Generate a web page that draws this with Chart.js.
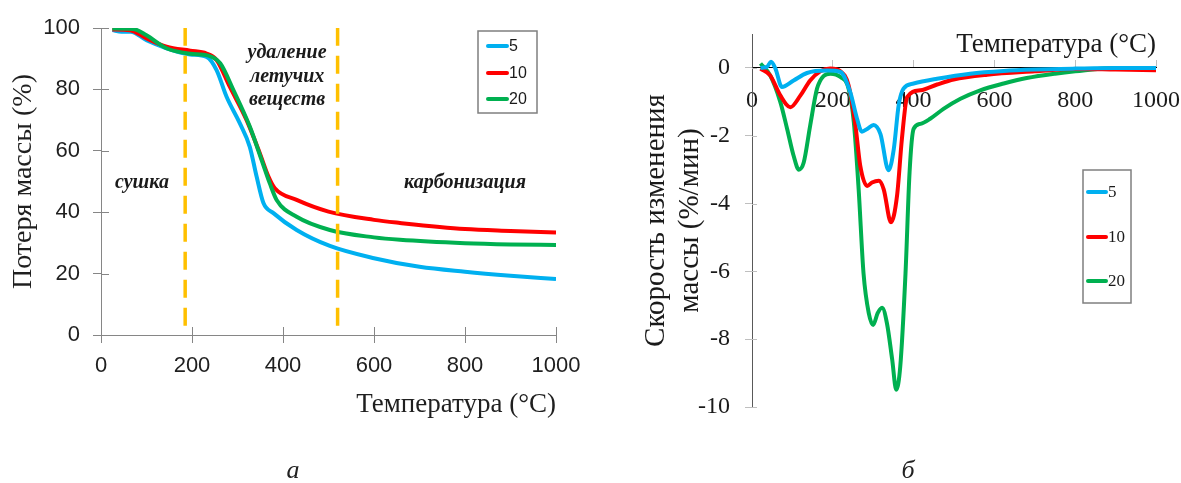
<!DOCTYPE html>
<html lang="ru">
<head>
<meta charset="utf-8">
<title>ТГ и ДТГ</title>
<script src="https://cdn.jsdelivr.net/npm/chart.js@4.4.1/dist/chart.umd.min.js"></script>
<style>
  html, body { margin: 0; padding: 0; background: #fff; }
  #wrap { position: relative; width: 1181px; height: 483px; overflow: hidden; }
  canvas { position: absolute; top: 0; }
  #tgChart { left: 0; }
  #dtgChart { left: 600px; }
  .caption { position: absolute; top: 455px; line-height: 30px; font: italic 26px "Liberation Serif", serif; color: #222; transform: translateX(-50%); }
</style>
</head>
<body>
<div id="wrap">
  <canvas id="tgChart" width="600" height="483"></canvas>
  <canvas id="dtgChart" width="581" height="483"></canvas>
  <div class="caption" style="left:293px">а</div>
  <div class="caption" style="left:908px">б</div>
</div>
<script>
// heating rates (legend) and their colours
const rates = ['5', '10', '20'];
const rateColors = ['#00b0f0', '#ff0000', '#00b050'];

// (а) TG curves: temperature, °C -> mass, %
const tgTemp5  = [25, 45, 65, 100, 144, 196, 232, 254, 276, 305, 327, 342, 357, 379, 430, 503, 600, 700, 800, 900, 1000];
const tgMass5  = [99.3, 98.8, 98.8, 96, 93.4, 91.4, 90.6, 86.3, 77.6, 69, 61.3, 51.6, 43, 39.7, 34.2, 29.0, 25, 22.2, 20.6, 19.3, 18.2];
const tgTemp10 = [25, 64, 100, 144, 196, 232, 254, 283, 320, 349, 368, 382, 430, 500, 600, 657, 800, 900, 1000];
const tgMass10 = [99.5, 99.3, 96.6, 93.9, 92.6, 91.7, 89.6, 80.9, 70, 59.2, 51.6, 47.8, 44, 40.2, 37.5, 36.5, 34.5, 33.9, 33.4];
const tgTemp20 = [25, 70, 100, 144, 196, 236, 262, 291, 327, 353, 371, 386, 430, 503, 600, 657, 800, 900, 1000];
const tgMass20 = [99.8, 99.7, 97.6, 93.4, 91.6, 91, 88.5, 79.8, 67.9, 57, 49.4, 44, 38.5, 34.2, 31.8, 31, 29.9, 29.5, 29.3];

// stage boundaries on (а), °C, and the mass range the dashes cover
const stageBounds = [185, 520];
const stageSpan = [3, 100.5];

// (б) DTG curves: temperature, °C -> rate of mass change, %/min
const dtgTemp5  = [21, 37, 47, 58, 74, 103, 136, 186, 219, 243, 260, 272, 285, 301, 318, 338, 351, 363, 375, 400, 458, 540, 623, 700, 800, 900, 1000];
const dtgRate5  = [0, 0.03, 0.18, -0.02, -0.56, -0.37, -0.15, -0.08, -0.12, -0.71, -1.5, -1.88, -1.8, -1.68, -1.95, -3.02, -2.39, -1.1, -0.61, -0.46, -0.32, -0.17, -0.09, -0.05, -0.02, 0, 0];
const dtgTemp10 = [21, 45, 70, 95, 120, 144, 169, 194, 219, 239, 256, 268, 285, 297, 314, 326, 344, 359, 371, 384, 417, 458, 499, 582, 700, 800, 900, 1000];
const dtgRate10 = [-0.02, -0.22, -0.81, -1.16, -0.81, -0.37, -0.1, -0.02, -0.1, -0.51, -1.7, -2.89, -3.48, -3.38, -3.33, -3.58, -4.55, -3.77, -2.1, -0.86, -0.66, -0.49, -0.34, -0.2, -0.1, -0.03, -0.05, -0.07];
const dtgTemp20 = [21, 45, 70, 87, 103, 116, 128, 144, 161, 177, 194, 219, 239, 252, 264, 276, 289, 300, 311, 322, 334, 347, 357, 367, 380, 390, 400, 417, 441, 474, 516, 565, 623, 680, 750, 800, 900, 1000];
const dtgRate20 = [0.13, -0.22, -1.0, -1.8, -2.59, -3.0, -2.79, -1.7, -0.61, -0.24, -0.17, -0.27, -0.61, -1.6, -3.58, -6.05, -7.23, -7.58, -7.23, -7.07, -7.53, -8.6, -9.49, -8.8, -6.05, -3.08, -1.8, -1.65, -1.5, -1.21, -0.91, -0.66, -0.46, -0.3, -0.17, -0.1, 0, -0.05];

const SANS = '"Liberation Sans", Arial, sans-serif';
const SERIF = '"Liberation Serif", "Times New Roman", serif';
const INK = '#1f1f1f';

const pts = (xs, ys) => xs.map((x, i) => ({ x: x, y: ys[i] }));

function seriesSet(temps, vals, orders) {
    return temps.map((t, i) => ({
        label: rates[i],
        data: pts(t, vals[i]),
        borderColor: rateColors[i],
        borderWidth: 4,
        pointRadius: 0,
        cubicInterpolationMode: 'monotone',
        order: orders[i]
    }));
}

// tick marks on the inner side of the axes
const innerTicks = {
    id: 'innerTicks',
    beforeDatasetsDraw(chart, args, opts) {
        const ctx = chart.ctx;
        const area = chart.chartArea;
        ctx.save();
        ctx.lineWidth = 1;
        Object.keys(opts.scales || {}).forEach(id => {
            const s = chart.scales[id];
            const len = opts.scales[id];
            ctx.strokeStyle = s.options.grid.color;
            ctx.beginPath();
            s.ticks.forEach(t => {
                const p = Math.round(s.getPixelForValue(t.value)) + 0.5;
                if (s.isHorizontal()) {
                    ctx.moveTo(p, area.bottom);
                    ctx.lineTo(p, area.bottom - len);
                } else {
                    ctx.moveTo(area.left, p);
                    ctx.lineTo(area.left + len, p);
                }
            });
            ctx.stroke();
        });
        ctx.restore();
    }
};

// framed legend with short line samples
const boxLegend = {
    id: 'boxLegend',
    afterDatasetsDraw(chart, args, o) {
        if (!o.box) return;
        const ctx = chart.ctx;
        ctx.save();
        ctx.fillStyle = '#fff';
        ctx.fillRect(o.box[0], o.box[1], o.box[2], o.box[3]);
        ctx.strokeStyle = '#7f7f7f';
        ctx.lineWidth = 1.5;
        ctx.strokeRect(o.box[0], o.box[1], o.box[2], o.box[3]);
        ctx.font = o.font;
        ctx.textBaseline = 'middle';
        ctx.textAlign = 'left';
        chart.data.datasets.filter(d => d.label).forEach((d, i) => {
            const y = o.rows[i];
            ctx.strokeStyle = d.borderColor;
            ctx.lineWidth = 4;
            ctx.lineCap = 'round';
            ctx.beginPath();
            ctx.moveTo(o.line[0], y);
            ctx.lineTo(o.line[1], y);
            ctx.stroke();
            ctx.fillStyle = '#1a1a1a';
            ctx.fillText(d.label, o.line[1] + 2, y + 1);
        });
        ctx.restore();
    }
};

// stage names placed in data coordinates
const stageLabels = {
    id: 'stageLabels',
    afterDatasetsDraw(chart, args, o) {
        if (!o.items) return;
        const ctx = chart.ctx;
        const sx = chart.scales.x, sy = chart.scales.y;
        ctx.save();
        ctx.font = o.font;
        ctx.fillStyle = '#1a1a1a';
        ctx.textAlign = 'center';
        ctx.textBaseline = 'middle';
        o.items.forEach(it => ctx.fillText(it.text, sx.getPixelForValue(it.t), sy.getPixelForValue(it.m)));
        ctx.restore();
    }
};

// ============================================
// (а) TG
// ============================================
const tgDatasets = seriesSet([tgTemp5, tgTemp10, tgTemp20], [tgMass5, tgMass10, tgMass20], [3, 2, 1]);
stageBounds.forEach(t => {
    tgDatasets.push({
        label: '',
        data: pts([t, t], stageSpan),
        borderColor: '#ffc000',
        borderWidth: 3.5,
        borderDash: [18, 10],
        pointRadius: 0,
        tension: 0,
        order: 0
    });
});

new Chart(document.getElementById('tgChart'), {
    type: 'line',
    data: { datasets: tgDatasets },
    plugins: [innerTicks, boxLegend, stageLabels],
    options: {
        responsive: false,
        animation: false,
        devicePixelRatio: 1,
        layout: { padding: { top: 28, right: 44, bottom: 0, left: 0 } },
        plugins: {
            legend: { display: false },
            tooltip: { enabled: false },
            innerTicks: { scales: { x: 8, y: 8 } },
            boxLegend: { box: [478, 31, 59, 82], rows: [46, 73, 99], line: [488, 507], font: '16px ' + SANS },
            stageLabels: {
                font: 'italic bold 20px ' + SERIF,
                items: [
                    { text: 'сушка', t: 90, m: 49.5 },
                    { text: 'удаление', t: 409, m: 91.9 },
                    { text: 'летучих', t: 409, m: 84.0 },
                    { text: 'веществ', t: 409, m: 76.5 },
                    { text: 'карбонизация', t: 800, m: 49.5 }
                ]
            }
        },
        scales: {
            x: {
                type: 'linear', min: 0, max: 1000,
                ticks: { stepSize: 200, padding: 10, autoSkip: false, maxRotation: 0, color: INK, font: { family: SANS, size: 22 }, callback: v => String(v) },
                grid: { drawOnChartArea: false, tickLength: 8, color: '#868686' },
                border: { color: '#868686', width: 1 },
                title: { display: true, text: 'Температура (°C)', align: 'end', color: INK, font: { family: SERIF, size: 27 }, padding: { top: 0, bottom: 62 } },
                afterFit: s => { s.height = 148; s.paddingLeft = 0; s.paddingRight = 0; }
            },
            y: {
                min: 0, max: 100,
                ticks: { stepSize: 20, padding: 13, color: INK, font: { family: SANS, size: 22 }, callback: v => String(v) },
                grid: { drawOnChartArea: false, tickLength: 8, color: '#868686' },
                border: { color: '#868686', width: 1 },
                title: { display: true, text: 'Потеря массы (%)', color: INK, font: { family: SERIF, size: 28 }, padding: { top: 7, bottom: 0 } },
                afterFit: s => { s.width = 101; s.paddingTop = 0; s.paddingBottom = 0; }
            }
        }
    }
});

// ============================================
// (б) DTG
// ============================================
new Chart(document.getElementById('dtgChart'), {
    type: 'line',
    data: { datasets: seriesSet([dtgTemp5, dtgTemp10, dtgTemp20], [dtgRate5, dtgRate10, dtgRate20], [1, 2, 3]) },
    plugins: [innerTicks, boxLegend],
    options: {
        responsive: false,
        animation: false,
        devicePixelRatio: 1,
        layout: { padding: { top: 34, right: 25, bottom: 76, left: 0 } },
        plugins: {
            legend: { display: false },
            tooltip: { enabled: false },
            innerTicks: { scales: { y: 5 } },
            boxLegend: { box: [483, 170, 48, 133], rows: [192, 237, 281], line: [488, 506], font: '17px ' + SERIF }
        },
        scales: {
            x: {
                type: 'linear', min: 0, max: 1000, position: { y: 0 },
                ticks: { stepSize: 200, padding: 26, autoSkip: false, maxRotation: 0, color: '#1a1a1a', font: { family: SERIF, size: 24 }, callback: v => String(v) },
                grid: { drawOnChartArea: false, tickLength: -8, color: '#bfbfbf' },
                border: { color: '#000', width: 1 },
                title: { display: true, text: 'Температура (°C)', align: 'end', color: '#1a1a1a', font: { family: SERIF, size: 27 }, padding: { top: 0, bottom: 7 } },
                afterFit: s => { s.height = 0; s.paddingLeft = 0; s.paddingRight = 0; }
            },
            y: {
                min: -10, max: 1,
                ticks: { stepSize: 2, includeBounds: false, padding: 15, color: '#1a1a1a', font: { family: SERIF, size: 24 }, callback: v => String(v) },
                grid: { drawOnChartArea: false, tickLength: 7, color: '#bfbfbf' },
                border: { color: '#595959', width: 1 },
                title: { display: true, text: ['Скорость изменения', 'массы (%/мин)'], color: '#1a1a1a', font: { family: SERIF, size: 29, lineHeight: 1.15 }, padding: { top: 40, bottom: 0 } },
                afterFit: s => { s.width = 152; s.paddingTop = 0; s.paddingBottom = 0; }
            }
        }
    }
});
</script>
</body>
</html>
